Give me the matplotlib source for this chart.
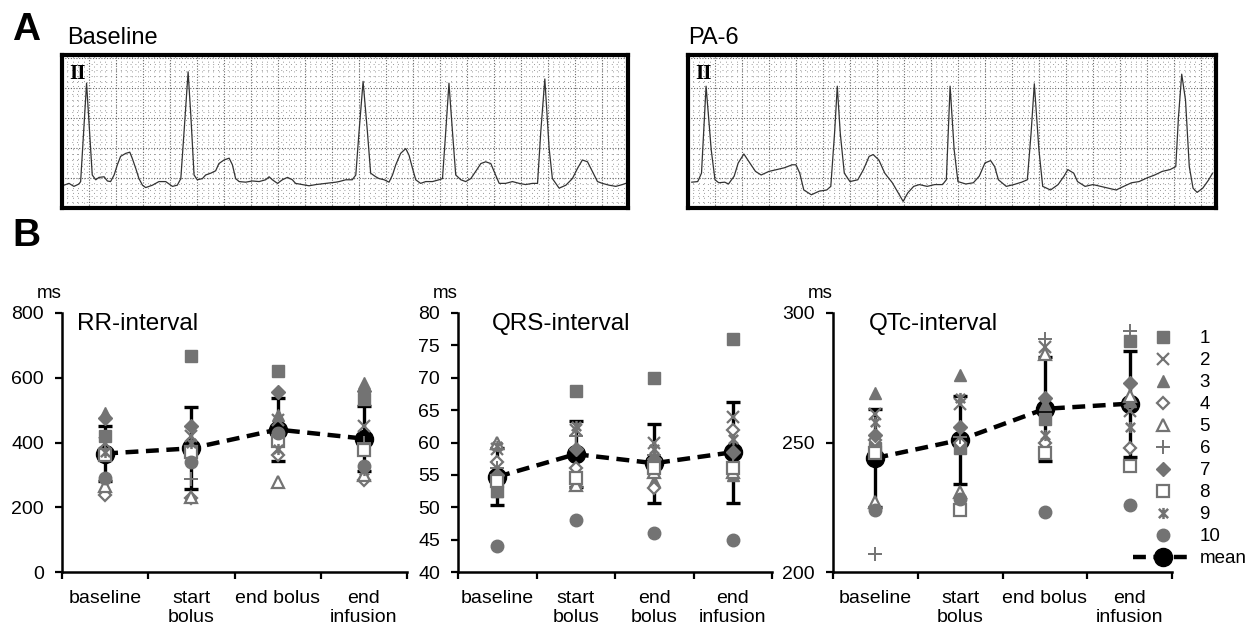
import numpy as np
import matplotlib.pyplot as plt
from matplotlib.lines import Line2D
from matplotlib.path import Path

plt.rcParams['font.family'] = ['Liberation Sans', 'DejaVu Sans']

# ---- ECG traces (lead II), t in ms, amplitude in mV ----
ecg_base_t = [7, 26, 44, 63, 69, 91, 112, 125, 137, 156, 168, 180, 193, 205, 217,
              236, 251, 260, 273, 285, 298, 310, 335, 359, 384, 409, 427, 440, 452, 467,
              477, 489, 501, 520, 532, 551, 569, 581, 600, 619, 631, 643, 656, 680, 705,
              730, 754, 767, 779, 798, 816, 835, 853, 865, 890, 915, 940, 977, 1014, 1026,
              1051, 1075, 1088, 1100, 1115, 1131, 1143, 1162, 1174, 1193, 1211, 1224, 1236, 1254, 1273,
              1285, 1298, 1310, 1328, 1347, 1372, 1396, 1409, 1421, 1433, 1446, 1458, 1477, 1495, 1514,
              1532, 1551, 1569, 1588, 1600, 1619, 1643, 1668, 1693, 1717, 1742, 1761, 1773, 1788, 1804,
              1816, 1841, 1866, 1890, 1909, 1927, 1946, 1964, 1983, 2001, 2026, 2051, 2075, 2088]
ecg_base_v = [0.38, 0.41, 0.36, 0.40, 0.44, 2.08, 0.55, 0.47, 0.51, 0.52, 0.45, 0.44, 0.55, 0.72, 0.86,
              0.91, 0.93, 0.83, 0.66, 0.49, 0.38, 0.34, 0.38, 0.44, 0.44, 0.36, 0.38, 0.49, 1.27, 2.27,
              1.55, 0.55, 0.47, 0.49, 0.55, 0.58, 0.62, 0.74, 0.80, 0.83, 0.72, 0.49, 0.44, 0.43, 0.45,
              0.44, 0.47, 0.52, 0.47, 0.41, 0.47, 0.51, 0.47, 0.41, 0.39, 0.37, 0.39, 0.41, 0.43, 0.44,
              0.47, 0.47, 0.55, 1.27, 2.11, 1.27, 0.58, 0.52, 0.49, 0.47, 0.43, 0.55, 0.72, 0.91, 0.99,
              0.88, 0.66, 0.47, 0.41, 0.44, 0.44, 0.47, 0.49, 1.27, 2.08, 1.27, 0.55, 0.47, 0.44, 0.49,
              0.61, 0.74, 0.77, 0.74, 0.61, 0.41, 0.41, 0.44, 0.41, 0.39, 0.41, 0.41, 1.27, 2.15, 0.99,
              0.49, 0.33, 0.38, 0.49, 0.66, 0.80, 0.77, 0.61, 0.44, 0.41, 0.38, 0.36, 0.39, 0.41]

ecg_pa6_t = [14, 36, 50, 67, 86, 100, 114, 136, 150, 171, 186, 207, 229, 250, 271,
             300, 329, 357, 386, 400, 414, 429, 457, 486, 514, 529, 543, 553, 564, 579,
             600, 629, 650, 671, 686, 707, 729, 757, 779, 797, 814, 836, 857, 886, 914,
             943, 957, 971, 986, 1000, 1029, 1057, 1079, 1100, 1121, 1136, 1150, 1179, 1207, 1236,
             1257, 1271, 1283, 1300, 1314, 1343, 1371, 1393, 1407, 1429, 1443, 1471, 1500, 1529, 1557,
             1586, 1614, 1643, 1671, 1700, 1729, 1757, 1786, 1807, 1817, 1829, 1843, 1857, 1871, 1886,
             1907, 1929, 1943]
ecg_pa6_v = [0.43, 0.44, 0.58, 2.03, 0.97, 0.47, 0.42, 0.43, 0.40, 0.53, 0.75, 0.90, 0.75, 0.61, 0.55,
             0.61, 0.64, 0.67, 0.72, 0.72, 0.58, 0.30, 0.22, 0.28, 0.30, 0.36, 1.25, 2.03, 1.25, 0.58,
             0.44, 0.47, 0.64, 0.86, 0.89, 0.80, 0.58, 0.42, 0.25, 0.11, 0.25, 0.36, 0.39, 0.36, 0.39,
             0.39, 0.47, 2.03, 0.97, 0.44, 0.40, 0.42, 0.53, 0.75, 0.79, 0.69, 0.47, 0.36, 0.39, 0.43,
             0.47, 1.25, 2.07, 0.97, 0.36, 0.30, 0.39, 0.53, 0.64, 0.58, 0.44, 0.36, 0.39, 0.36, 0.33,
             0.30, 0.36, 0.42, 0.44, 0.50, 0.55, 0.61, 0.64, 0.69, 1.52, 2.23, 1.80, 0.69, 0.33, 0.26,
             0.33, 0.47, 0.58]

# ---- interval data, one row per animal (1..10) ----
categories = ["baseline", "start\nbolus", "end bolus", "end\ninfusion"]
qrs_categories = ["baseline", "start\nbolus", "end\nbolus", "end\ninfusion"]
subjects = ["1", "2", "3", "4", "5", "6", "7", "8", "9", "10"]

rr = [[420, 668, 621, 535],
      [400, 420, 470, 450],
      [490, 385, 485, 584],
      [238, 228, 362, 285],
      [265, 232, 277, 300],
      [380, 286, 390, 400],
      [475, 452, 557, 560],
      [360, 372, 405, 378],
      [370, 400, 380, 315],
      [290, 340, 430, 326]]
rr_mean = [366, 382, 440, 412]
rr_sd = [84, 127, 98, 100]

qrs = [[52.5, 68, 70, 76],
       [59, 62, 60, 64],
       [52.5, 54, 54, 55],
       [57, 56, 53, 62],
       [60, 53.5, 55.5, 55.5],
       [56, 61, 58, 57],
       [55, 59, 57.5, 58.5],
       [54, 54.5, 56, 56],
       [59.5, 62.5, 59, 60.5],
       [44, 48, 46, 45]]
qrs_mean = [54.7, 58.2, 56.8, 58.5]
qrs_sd = [4.4, 5.1, 6.1, 7.8]

qtc = [[248, 248, 259, 289],
       [261, 265, 287, 262],
       [269, 276, 265, 266],
       [251, 250, 250, 248],
       [227, 231, 284, 268],
       [207, 252, 290, 293],
       [253, 256, 267, 273],
       [246, 224, 246, 241],
       [258, 267, 253, 256],
       [224, 228, 223, 226]]
qtc_mean = [244, 251, 263, 265]
qtc_sd = [19, 17, 20, 20.5]

# ---- styles ----
gray = '#737373'
star = Path([(-1, -1), (1, 1), (-1, 1), (1, -1), (0, -1.2), (0, 1.2)],
            [Path.MOVETO, Path.LINETO, Path.MOVETO, Path.LINETO, Path.MOVETO, Path.LINETO])
styles = [
    dict(marker='s', ms=8, mfc=gray, mec=gray),
    dict(marker='x', ms=8, mec=gray, mew=1.6),
    dict(marker='^', ms=9, mfc=gray, mec=gray),
    dict(marker='D', ms=6.5, mfc='white', mec=gray, mew=1.6),
    dict(marker='^', ms=8.5, mfc='white', mec=gray, mew=1.6),
    dict(marker='+', ms=10, mec=gray, mew=1.4),
    dict(marker='D', ms=7, mfc=gray, mec=gray),
    dict(marker='s', ms=8, mfc='white', mec=gray, mew=1.6),
    dict(marker=star, ms=8, mec=gray, mew=1.8),
    dict(marker='o', ms=9, mfc=gray, mec=gray),
]
mean_style = dict(color='black', lw=3.2, ls=(0, (2.9, 1.7)), marker='o', ms=13, mfc='black', mec='black')

fig = plt.figure(figsize=(12.49, 6.27), dpi=100)


def ecg_panel(rect, t, v, width_ms):
    ax = fig.add_axes(rect)
    ax.plot(t, v, color='#333333', lw=0.9)
    ax.set_xlim(0, width_ms)
    ax.set_ylim(0, 2.55)
    ax.set_xticks(np.arange(0, width_ms, 100))
    ax.set_xticks(np.arange(0, width_ms, 20), minor=True)
    ax.set_yticks(np.arange(0, 2.55, 0.5))
    ax.set_yticks(np.arange(0, 2.55, 0.1), minor=True)
    ax.grid(True, which='major', color='#666666', lw=0.8, ls=(0, (1, 1.5)))
    ax.grid(True, which='minor', color='#999999', lw=0.7, ls=(0, (1, 4)))
    ax.tick_params(which='both', length=0, labelbottom=False, labelleft=False)
    for s in ax.spines.values():
        s.set_linewidth(3)
    ax.text(0.013, 0.94, 'II', transform=ax.transAxes, ha='left', va='top',
            family='Liberation Serif', fontweight='bold', fontsize=15)
    return ax


ecg_panel([62 / 1249, 0.6683, 566 / 1249, 0.2440], ecg_base_t, ecg_base_v, 2096)
ecg_panel([688 / 1249, 0.6683, 528 / 1249, 0.2440], ecg_pa6_t, ecg_pa6_v, 1956)

fig.text(0.0096, 0.936, 'A', fontsize=28, fontweight='bold', ha='left', va='baseline')
fig.text(67 / 1249, 0.930, 'Baseline', fontsize=17, ha='left', va='baseline')
fig.text(688 / 1249, 0.930, 'PA-6', fontsize=17, ha='left', va='baseline')
fig.text(0.0096, 0.607, 'B', fontsize=28, fontweight='bold', ha='left', va='baseline')


def interval_panel(rect, data, mean, sd, cats, ylim, yticks, title, title_x):
    ax = fig.add_axes(rect)
    x = np.arange(1, 5)
    ax.plot(x, mean, zorder=2, **mean_style)
    ax.errorbar(x, mean, yerr=sd, fmt='none', ecolor='black', elinewidth=2.4,
                capsize=5, capthick=2.4, zorder=2.5)
    for row, st in zip(data, styles):
        ax.plot(x, row, ls='none', zorder=3, **st)
    ax.set_xlim(0.5, 4.5)
    ax.set_ylim(*ylim)
    ax.set_yticks(yticks)
    ax.set_xticks(np.arange(0.5, 4.6, 1))
    ax.set_xticklabels([])
    ax.set_xticks(x, minor=True)
    ax.set_xticklabels(cats, minor=True, fontsize=14, linespacing=1.15)
    ax.tick_params(axis='x', which='minor', length=0, pad=13)
    ax.tick_params(axis='both', which='major', direction='out', length=5, width=1.6,
                   labelsize=14)
    ax.tick_params(axis='y', pad=8)
    ax.spines['top'].set_visible(False)
    ax.spines['right'].set_visible(False)
    ax.spines['left'].set_linewidth(1.8)
    ax.spines['bottom'].set_linewidth(1.8)
    ax.text(0, 1.058, 'ms', transform=ax.transAxes, ha='right', va='baseline', fontsize=13.5)
    ax.text(title_x, 0.935, title, transform=ax.transAxes, ha='left', va='baseline', fontsize=17.5)
    return ax


bottom, height = 0.0877, 0.4131
interval_panel([62 / 1249, bottom, 345 / 1249, height], rr, rr_mean, rr_sd, categories,
               (0, 800), [0, 200, 400, 600, 800], 'RR-interval', 0.043)
interval_panel([458 / 1249, bottom, 314 / 1249, height], qrs, qrs_mean, qrs_sd, qrs_categories,
               (40, 80), [40, 45, 50, 55, 60, 65, 70, 75, 80], 'QRS-interval', 0.108)
ax3 = interval_panel([833 / 1249, bottom, 339 / 1249, height], qtc, qtc_mean, qtc_sd, categories,
                     (200, 300), [200, 250, 300], 'QTc-interval', 0.106)

handles = [Line2D([], [], ls='none', **st) for st in styles]
handles.append(Line2D([], [], **mean_style))
ax3.legend(handles, subjects + ['mean'], loc='upper left',
           bbox_to_anchor=(1133 / 1249, 1 - 330 / 627), bbox_transform=fig.transFigure,
           frameon=False, fontsize=13.5, handlelength=3.2, handletextpad=0.35,
           labelspacing=0.26, borderpad=0, borderaxespad=0, numpoints=1)

fig.savefig('out.png', dpi=100)
